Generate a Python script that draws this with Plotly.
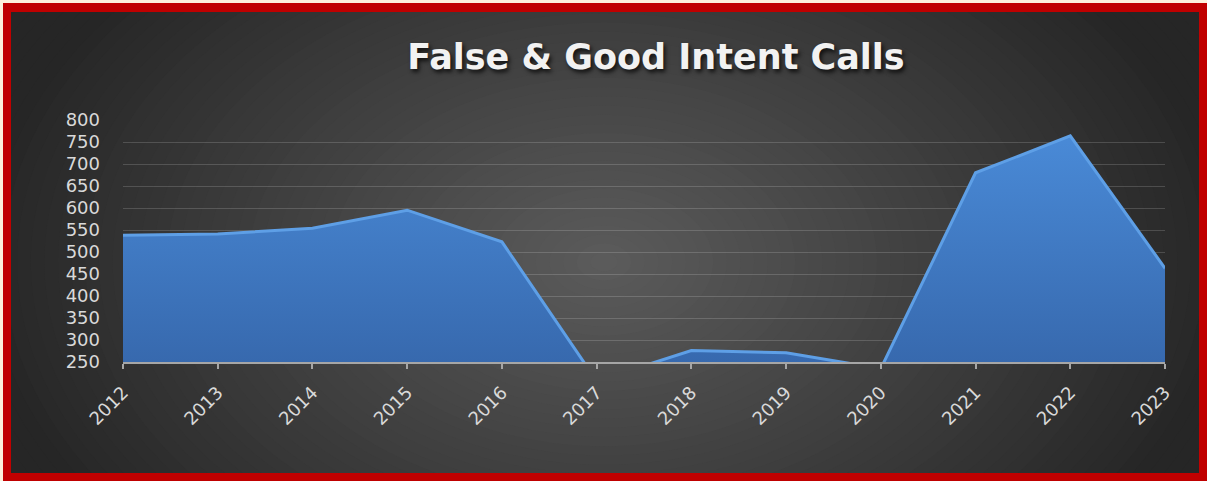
import plotly.graph_objects as go

# ---- data ----
years = ["2012", "2013", "2014", "2015", "2016", "2017", "2018", "2019", "2020", "2021", "2022", "2023"]
calls = [538, 541, 554, 595, 523, 207, 276, 271, 235, 680, 764, 463]
y_ticks = [250, 300, 350, 400, 450, 500, 550, 600, 650, 700, 750, 800]
title_text = "False & Good Intent Calls"

# ---- canvas geometry ----
WIDTH, HEIGHT = 1207, 481
L, R, T, B = 123, 42, 120, 119
PW = WIDTH - L - R
PH = HEIGHT - T - B


def px(x):
    return (x - L) / PW


def py(y):
    return (HEIGHT - B - y) / PH


shapes = []

# radial background gradient via concentric ellipses
cx, cy, rx, ry = 604, 262, 630, 425
c_center, c_edge = 92, 38
N = 60
for i in range(N):
    d = 1.3 * (1 - i / N)
    v = c_center - (c_center - c_edge) * min(d, 1.0)
    v = int(round(max(v, c_edge)))
    col = f"rgb({v},{v},{v})"
    shapes.append(dict(type="circle", xref="paper", yref="paper",
                       x0=px(cx - rx * d), x1=px(cx + rx * d),
                       y0=py(cy + ry * d), y1=py(cy - ry * d),
                       fillcolor=col, line=dict(width=0), layer="below"))

# red frame
red = "#c00000"
cream = "#fdf1dc"
for (x0, y0, x1, y1, c) in [
    (3, 3, 11, 481, red), (1199, 3, 1207, 481, red),
    (3, 3, 1207, 12, red), (3, 473, 1207, 481, red),
    (0, 0, 3, 481, cream), (0, 0, 1207, 3, cream),
]:
    shapes.append(dict(type="rect", xref="paper", yref="paper",
                       x0=px(x0), x1=px(x1), y0=py(y1), y1=py(y0),
                       fillcolor=c, line=dict(width=0), layer="below"))

fig = go.Figure()
fig.add_trace(go.Scatter(
    x=years, y=calls, mode="lines", fill="tozeroy",
    line=dict(color="#5e9fe6", width=3),
    fillgradient=dict(type="vertical", start=250, stop=780,
                      colorscale=[[0, "#3769ae"], [1, "#4a8bd8"]]),
    hoverinfo="x+y", showlegend=False,
))

tick_font = dict(family="DejaVu Sans", size=18, color="#d9d9d9")

fig.update_layout(
    width=WIDTH, height=HEIGHT,
    margin=dict(l=L, r=R, t=T, b=B, pad=0),
    paper_bgcolor="#262626",
    plot_bgcolor="rgba(0,0,0,0)",
    shapes=shapes,
    title=dict(text=title_text, xref="container", yref="container",
               x=656 / WIDTH, xanchor="center", y=1 - 57 / HEIGHT, yanchor="middle",
               font=dict(family="DejaVu Sans", size=35, color="#f2f2f2", weight="bold",
                         shadow="2px 3px 4px rgba(0,0,0,0.75)")),
    xaxis=dict(type="category", range=[0, len(years) - 1],
               showgrid=False, zeroline=False,
               showline=True, linecolor="#a6a6a6", linewidth=2,
               ticks="outside", ticklen=5, tickwidth=2, tickcolor="#a6a6a6",
               ticklabelstandoff=6,
               tickangle=-45, tickfont=tick_font),
    yaxis=dict(range=[250, 800], tickvals=y_ticks,
               showgrid=True, gridcolor="rgba(255,255,255,0.16)", gridwidth=1,
               zeroline=False, showline=False, ticks="",
               ticklabelstandoff=22, tickfont=tick_font),
)

fig.write_html("out.html", config={"displayModeBar": False},
               post_script="document.body.style.margin='0';")
